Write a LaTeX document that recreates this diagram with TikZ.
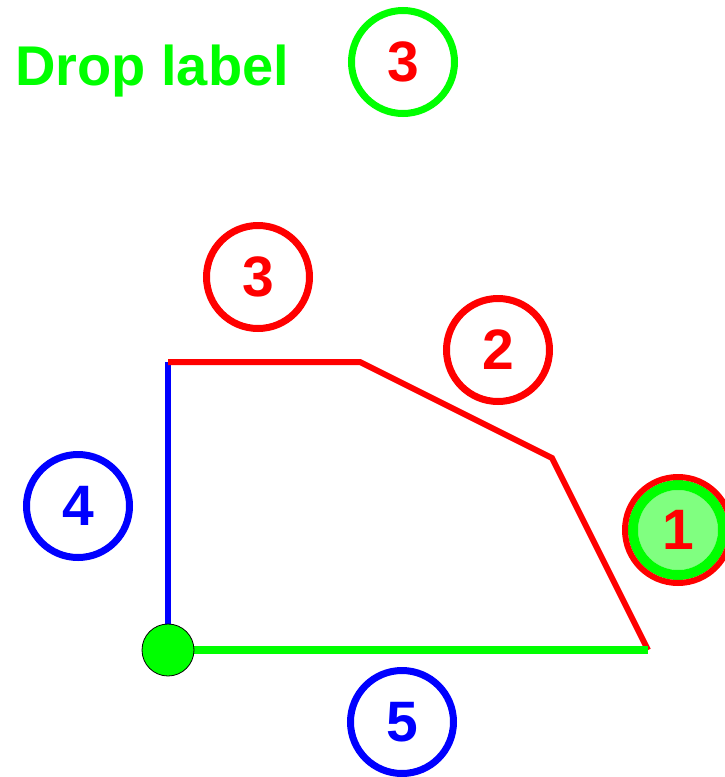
\documentclass[tikz,border=0pt]{standalone}
\usepackage{fontspec}
\setmainfont{Liberation Sans}
\usetikzlibrary{positioning}

\begin{document}
\begin{tikzpicture}[x=1pt, y=-1pt,
    num/.style={circle, draw, line width=7pt, minimum size=103pt, inner sep=0pt,
                font=\fontsize{57}{57}\selectfont\bfseries},
    redring/.style={num, draw=red, text=red},
    bluering/.style={num, draw=blue, text=blue},
    greenring/.style={num, draw=green, text=red},
    side/.style={line width=6pt},
  ]
  \useasboundingbox (0,0) rectangle (724,777);

  % corners of the outline
  \coordinate (c1) at (168,362);
  \coordinate (c2) at (360,362);
  \coordinate (c3) at (552,458);
  \coordinate (c4) at (648,650);

  \draw[side, blue] (168,650) -- (c1);
  \draw[side, red] (c1) -- (c2) -- (c3) -- (c4);
  \draw[side, green, line width=8pt] (168,650) -- (c4);
  \node[circle, draw=black, fill=green, line width=0.8pt, minimum size=52pt,
        inner sep=0pt] (dot) at (168,650) {};

  \node[font=\fontsize{56}{56}\selectfont\bfseries, text=green, anchor=base west,
        inner sep=0pt] (drop) at (15,85) {Drop label};
  \node[greenring] (top3) at (403,62) {3};

  \node[redring] (n3) at (258,277) {3};
  \node[redring] (n2) at (498,350) {2};
  \node[bluering] (n4) at (78,506) {4};
  \node[bluering] (n5) at (402,722) {5};

  % selected label: double ring
  \fill[green!50] (678,530) circle (40);
  \draw[green, line width=10pt] (678,530) circle (45);
  \draw[red, line width=6pt] (678,530) circle (53);
  \node[font=\fontsize{57}{57}\selectfont\bfseries, text=red] (n1) at (678,530) {1};
\end{tikzpicture}
\end{document}
